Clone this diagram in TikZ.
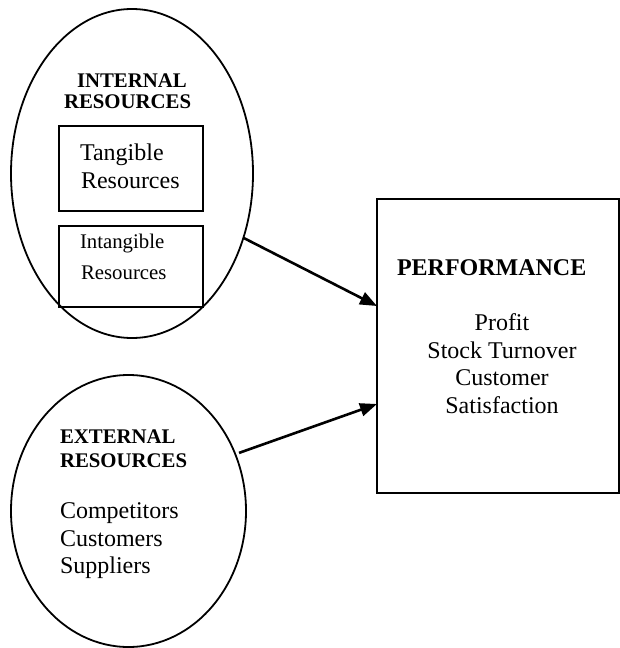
\documentclass[tikz,border=0pt]{standalone}
\usepackage{fontspec}
\setmainfont{Liberation Serif}
\usetikzlibrary{arrows.meta,shapes.geometric}

\begin{document}
\begin{tikzpicture}[
    x=0.5pt, y=-0.5pt,
    shapeline/.style={draw=black, line width=0.9pt, inner sep=0pt, outer sep=0pt},
    oval/.style={shapeline, ellipse},
    panel/.style={shapeline, rectangle},
    txt/.style={inner sep=0pt, outer sep=0pt, anchor=base west},
    ctxt/.style={inner sep=0pt, outer sep=0pt, anchor=base},
    bigfont/.style={font=\fontsize{12}{14}\selectfont},
    headfont/.style={font=\fontsize{10.4}{12}\selectfont\bfseries},
    smallfont/.style={font=\fontsize{10.4}{12}\selectfont},
    link/.style={line width=1.3pt, -{Triangle[length=8.5pt, width=6.5pt]}}
  ]
  \useasboundingbox (0,0) rectangle (620,648);

  % resource groups
  \node[oval, minimum width=121pt, minimum height=164.5pt] (internal) at (132,173.5) {};
  \node[oval, minimum width=117.5pt, minimum height=136pt] (external) at (128.5,511) {};

  % boxes
  \node[panel, minimum width=72pt, minimum height=42.5pt] (tangible) at (131,168.5) {};
  \node[panel, minimum width=72pt, minimum height=40.5pt] (intangible) at (131,266.5) {};
  \node[panel, minimum width=121pt, minimum height=147pt] (perf) at (498,346) {};

  % internal resources text
  \node[txt, headfont] (inthead1) at (77,87) {INTERNAL};
  \node[txt, headfont] (inthead2) at (64,108) {RESOURCES};
  \node[txt, bigfont] (tang1) at (80,160) {Tangible};
  \node[txt, bigfont] (tang2) at (81,188) {Resources};
  \node[txt, smallfont] (intang1) at (80,248) {Intangible};
  \node[txt, smallfont] (intang2) at (81,279) {Resources};

  % external resources text
  \node[txt, headfont] (exthead1) at (60,443) {EXTERNAL};
  \node[txt, headfont] (exthead2) at (60,467) {RESOURCES};
  \node[txt, bigfont] (ext1) at (60,518) {Competitors};
  \node[txt, bigfont] (ext2) at (60,546) {Customers};
  \node[txt, bigfont] (ext3) at (60,573) {Suppliers};

  % performance text
  \node[txt, font=\fontsize{12}{14}\selectfont\bfseries] (perfhead) at (397,275) {PERFORMANCE};
  \node[ctxt, bigfont] (perf1) at (502,330) {Profit};
  \node[ctxt, bigfont] (perf2) at (502,358) {Stock Turnover};
  \node[ctxt, bigfont] (perf3) at (502,385) {Customer};
  \node[ctxt, bigfont] (perf4) at (502,413) {Satisfaction};

  % arrow end points on the performance box
  \coordinate (tipA) at (perf.west |- 0,306);
  \coordinate (tipB) at (perf.west |- 0,404);

  % connectors
  \draw[link] (internal.-30.6) -- (tipA);
  \draw[link, shorten <=2pt] (external.28.3) -- (tipB);
\end{tikzpicture}
\end{document}
